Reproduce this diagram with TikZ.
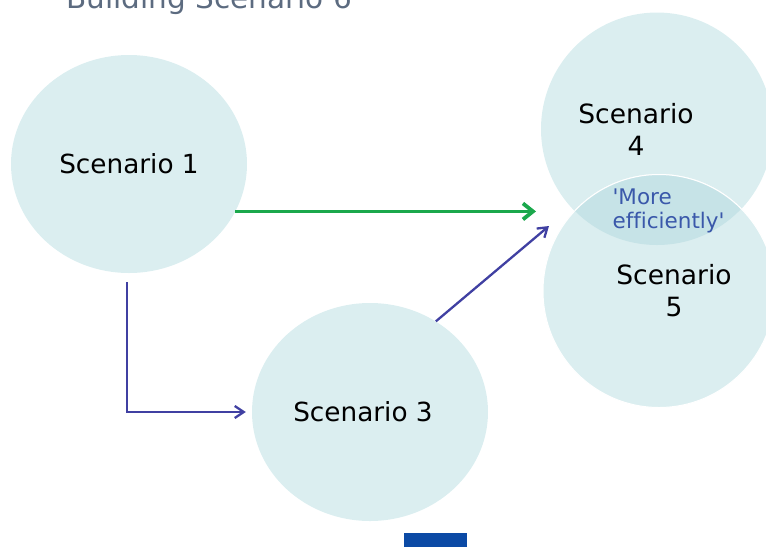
\documentclass[tikz,border=0pt]{standalone}
\usepackage{fontspec}
\setmainfont{DejaVu Sans}[Ligatures=NoCommon]
\usetikzlibrary{shapes.geometric,arrows.meta}
\definecolor{bubble}{HTML}{DBEEF0}
\definecolor{lens}{HTML}{C6E3E7}
\definecolor{gogreen}{HTML}{1BA84C}
\definecolor{flow}{HTML}{4040A2}
\definecolor{note}{HTML}{3A58AA}
\definecolor{heading}{HTML}{5C6B80}
\definecolor{bar}{HTML}{0B4AA5}
\begin{document}
\begin{tikzpicture}[x=1pt,y=-1pt,
  scen/.style={ellipse, fill=bubble, inner sep=0pt, minimum width=236pt, minimum height=218pt,
    font=\fontsize{26.3}{32}\selectfont},
  big/.style={ellipse, fill=bubble, inner sep=0pt, minimum width=232pt, minimum height=233pt},
  txt/.style={align=center, font=\fontsize{26.5}{32}\selectfont},
  flowline/.style={draw=flow, line width=2.3pt, -{Straight Barb[length=9pt,width=12pt]}},
  goline/.style={draw=gogreen, line width=3.8pt, -{Straight Barb[length=10pt,width=16pt]}}]
\useasboundingbox (0,0) rectangle (766,547);
\node[anchor=base west, text=heading, font=\fontsize{29.5}{34}\selectfont] (title) at (63,8) {Building Scenario 6};
\node[scen] (s1) at (129,164) {Scenario 1};
\node[scen] (s3) at (370,412) {\raisebox{-6pt}{\hspace*{-14pt}Scenario 3}};
\node[big] (s4) at (657,129) {};
\node[big, draw=white, line width=1pt] (s5) at (659,291) {};
\begin{scope}
\clip (657,129) ellipse [x radius=116pt, y radius=116pt];
\fill[lens] (659,291) ellipse [x radius=116pt, y radius=116.5pt];
\draw[white, line width=1pt] (659,291) ellipse [x radius=116pt, y radius=116.5pt];
\end{scope}
\node[txt] (t4) at (636,129) {Scenario\\4};
\node[txt] (t5) at (674,291) {Scenario\\5};
\node[anchor=west, align=left, text=note, font=\fontsize{21.5}{24}\selectfont] (more) at (609,211) {\textquotesingle More\\efficiently\textquotesingle};
\fill[bar] (404,533) rectangle (467,547);
\coordinate (gtip) at (536,210);
\coordinate (ptip) at (549,226);
\draw[goline] (s1.-24) -- (s1.-24 -| gtip);
\draw[flowline, shorten <=9pt, shorten >=6pt] ([xshift=-2pt]s1.south) |- (s3.west);
\draw[flowline] (s3.54) -- (ptip);
\end{tikzpicture}
\end{document}
